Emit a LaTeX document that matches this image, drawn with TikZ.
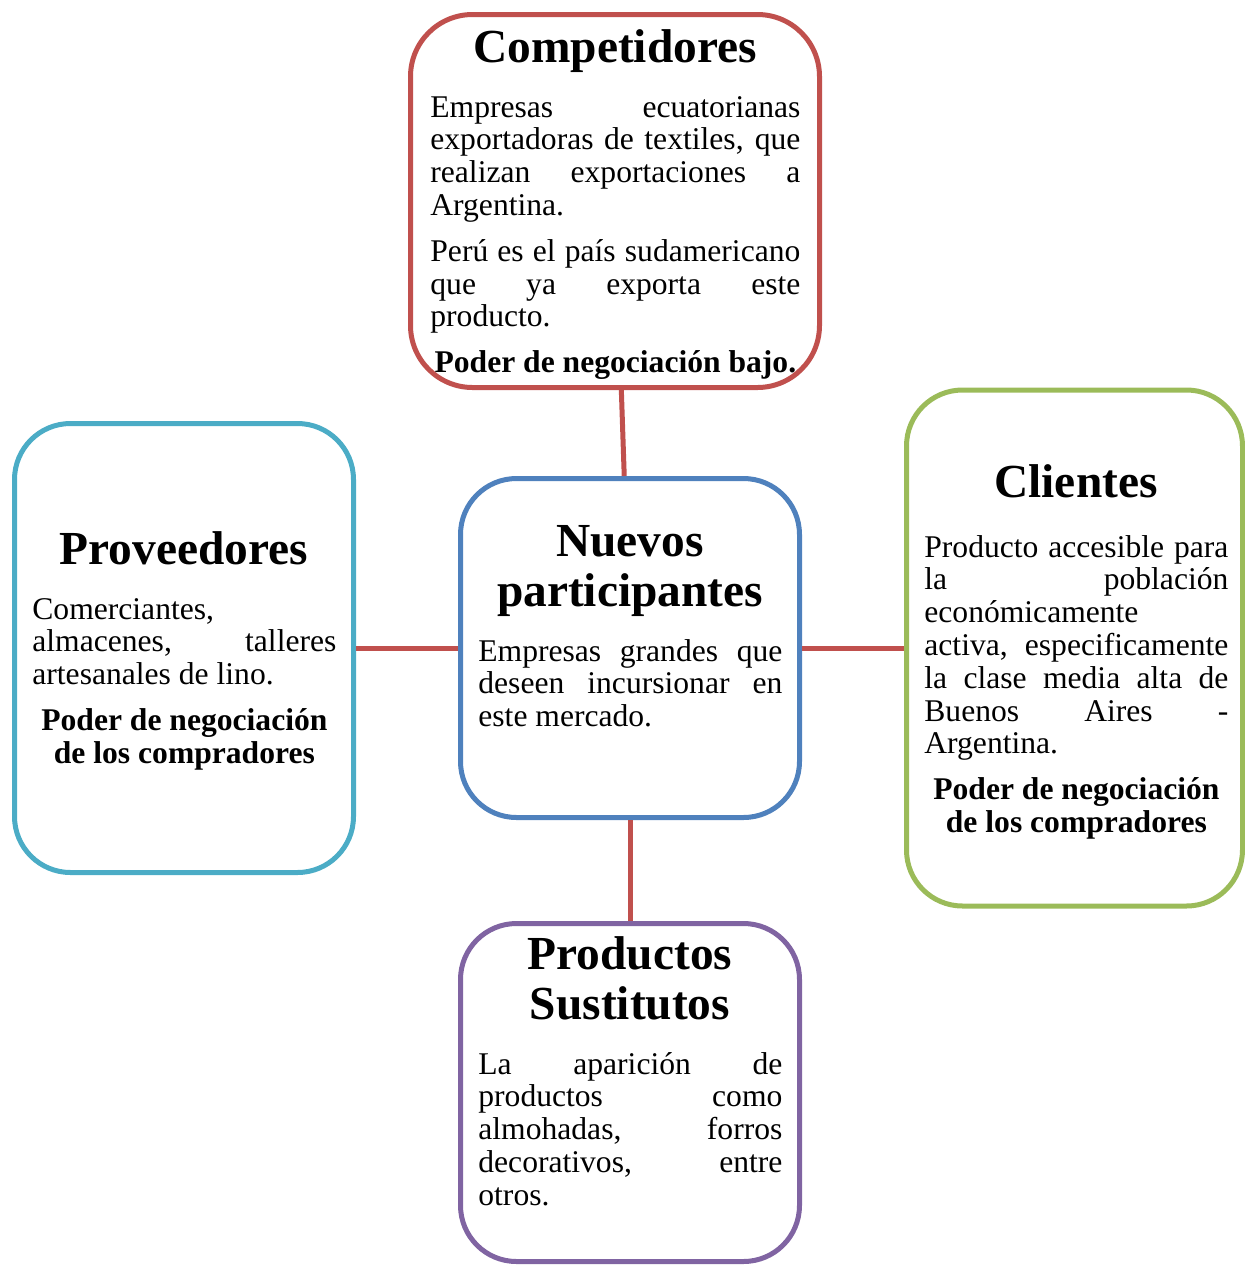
\documentclass[tikz,border=0pt]{standalone}
\usepackage{fontspec}
\setmainfont{Liberation Serif}
\usepackage{tikz}
\definecolor{pfred}{HTML}{C0504D}
\definecolor{pfcyan}{HTML}{4BACC6}
\definecolor{pfblue}{HTML}{4F81BD}
\definecolor{pfgreen}{HTML}{9BBB59}
\definecolor{pfpurple}{HTML}{8064A2}
\newcommand{\ttltext}[1]{\parbox[t]{169pt}{\centering\fontsize{23.7}{25}\selectfont\bfseries #1}}
\newcommand{\bodytext}[2]{\parbox[t]{#1}{\fontsize{15.8}{16.4}\selectfont\setlength{\parskip}{6.5pt}#2}}

\begin{document}
\begin{tikzpicture}[x=0.5pt, y=-0.5pt,
    box/.style={draw, line width=2.5pt, rounded corners=28pt, inner sep=0pt},
    ttl/.style={anchor=base, inner sep=0pt},
    txt/.style={anchor=base west, inner sep=0pt},
    link/.style={draw=pfred, line width=2.5pt},
  ]
  \useasboundingbox (0,0) rectangle (1245,1265);

  % Boxes of the five forces
  \node[box, draw=pfred, rounded corners=31pt, minimum width=204.5pt, minimum height=186.5pt] (comp) at (615,201) {};
  \node[box, draw=pfcyan, minimum width=169.5pt, minimum height=224.5pt] (prov) at (184,648) {};
  \node[box, draw=pfblue, minimum width=169.5pt, minimum height=169.5pt] (nuev) at (630,648) {};
  \node[box, draw=pfgreen, minimum width=168pt, minimum height=258pt] (cli) at (1074.5,648) {};
  \node[box, draw=pfpurple, minimum width=169.5pt, minimum height=169pt] (prod) at (630,1092.5) {};

  % Connectors to the centre box
  \draw[link] (comp) -- (nuev);
  \draw[link] (prov) -- (nuev);
  \draw[link] (nuev) -- (cli);
  \draw[link] (nuev) -- (prod);

  % Competidores
  \node[ttl] (comp-t) at (615,62) {\ttltext{Competidores}};
  \node[txt] (comp-b) at (430,117) {\bodytext{185pt}{Empresas ecuatorianas\linebreak
      exportadoras de textiles, que\linebreak realizan exportaciones a\linebreak Argentina.\par
      Perú es el país sudamericano\linebreak que ya exporta este\linebreak producto.\par
      {\centering\bfseries Poder de negociación bajo.\par}}};

  % Proveedores
  \node[ttl] (prov-t) at (184,564) {\ttltext{Proveedores}};
  \node[txt] (prov-b) at (32,619) {\bodytext{152pt}{Comerciantes,\linebreak
      almacenes, talleres\linebreak artesanales de lino.\par
      {\centering\bfseries Poder de negociación\\de los compradores\par}}};

  % Nuevos participantes
  \node[ttl] (nuev-t) at (630,556) {\ttltext{Nuevos\\participantes}};
  \node[txt] (nuev-b) at (478,661) {\bodytext{152pt}{Empresas grandes que\linebreak
      deseen incursionar en\linebreak este mercado.}};

  % Clientes
  \node[ttl] (cli-t) at (1076,497) {\ttltext{Clientes}};
  \node[txt] (cli-b) at (924,557) {\bodytext{152pt}{Producto accesible para\linebreak
      la población\linebreak económicamente\linebreak activa, especificamente\linebreak
      la clase media alta de\linebreak Buenos Aires -\linebreak Argentina.\par
      {\centering\bfseries Poder de negociación\\de los compradores\par}}};

  % Productos sustitutos
  \node[ttl] (prod-t) at (630,969) {\ttltext{Productos\\Sustitutos}};
  \node[txt] (prod-b) at (478,1074) {\bodytext{152pt}{La aparición de\linebreak
      productos como\linebreak almohadas, forros\linebreak decorativos, entre\linebreak otros.}};
\end{tikzpicture}
\end{document}
